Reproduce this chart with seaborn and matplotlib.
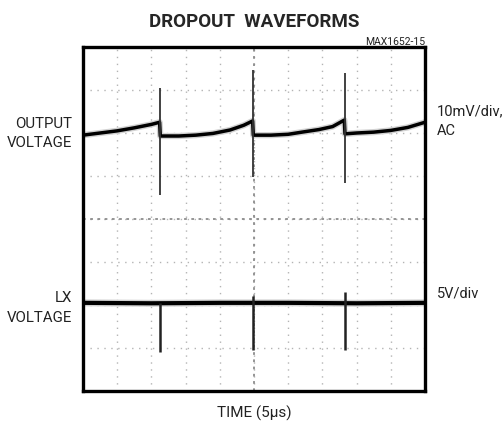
import matplotlib
matplotlib.use("Agg")
import matplotlib.pyplot as plt
import matplotlib.transforms as mtransforms
import seaborn as sns
import pandas as pd

# ==========================
# Data (x in time divisions, y in vertical divisions)
# ==========================

out_t = [0.0, 0.5, 1.0, 1.5, 2.0, 2.24, 2.26, 2.8, 3.3, 3.8, 4.3, 4.7, 4.96,
         4.98, 5.5, 6.0, 6.4, 6.9, 7.3, 7.64, 7.66, 8.0, 8.5, 9.0, 9.5, 10.0]
out_v = [5.95, 6.0, 6.05, 6.12, 6.2, 6.25, 5.93, 5.93, 5.95, 5.99, 6.07, 6.18, 6.28,
         5.95, 5.95, 5.97, 6.02, 6.08, 6.15, 6.3, 5.98, 6.0, 6.02, 6.06, 6.13, 6.25]

spike_t = [2.25, 4.97, 7.65]
out_spike_top = [7.05, 7.47, 7.40]
out_spike_bot = [4.56, 4.98, 4.84]

lx_t = [0.0, 2.0, 4.0, 6.0, 8.0, 10.0]
lx_v = [2.05, 2.04, 2.05, 2.05, 2.04, 2.05]
lx_spike_top = [2.05, 2.2, 2.3]
lx_spike_bot = [0.91, 0.95, 0.95]

left_labels = ["OUTPUT\nVOLTAGE", "LX\nVOLTAGE"]
left_label_y = [5.99, 1.93]
right_labels = ["10mV/div,\nAC", "5V/div"]
right_label_y = [6.28, 2.27]

out_df = pd.DataFrame({"t": out_t, "v": out_v})
lx_df = pd.DataFrame({"t": lx_t, "v": lx_v})

sns.set_style("white")
plt.rcParams["font.family"] = ["Roboto", "DejaVu Sans"]

fig = plt.figure(figsize=(5.04, 4.26), dpi=100)
ax = fig.add_axes([83 / 504, 35 / 426, 342 / 504, 344 / 426])

# scope graticule
ax.set_xlim(0, 10)
ax.set_ylim(0, 8)
ax.set_xticks(range(0, 11))
ax.set_yticks(range(0, 9))
ax.set_xticklabels([])
ax.set_yticklabels([])
ax.tick_params(length=0)
ax.grid(True, color="#b4b4b4", linestyle=(0, (1, 4)), linewidth=1.0)
ax.axhline(4, color="#8c8c8c", linestyle=(0, (1.5, 2.5)), linewidth=1.3)
ax.axvline(5, color="#8c8c8c", linestyle=(0, (1.5, 2.5)), linewidth=1.3)

# traces
sns.lineplot(data=out_df, x="t", y="v", ax=ax, color="#d2d2d2", linewidth=4.5, sort=False)
sns.lineplot(data=out_df, x="t", y="v", ax=ax, color="black", linewidth=2.5, sort=False)
ax.vlines(spike_t, out_spike_bot, out_spike_top, color="#333333", linewidth=1.3)

sns.lineplot(data=lx_df, x="t", y="v", ax=ax, color="#d2d2d2", linewidth=5, sort=False)
sns.lineplot(data=lx_df, x="t", y="v", ax=ax, color="black", linewidth=3.0, sort=False)
ax.vlines(spike_t, lx_spike_bot, lx_spike_top, color="#222222", linewidth=1.8)

ax.set_xlabel("")
ax.set_ylabel("")
for s in ax.spines.values():
    s.set_visible(True)
    s.set_color("black")
    s.set_linewidth(2.4)

trans = mtransforms.blended_transform_factory(ax.transAxes, ax.transData)
for lab, y in zip(left_labels, left_label_y):
    ax.text(-0.032, y, lab, transform=trans, ha="right", va="center",
            fontsize=10.8, linespacing=1.5, color="#222222")
for lab, y in zip(right_labels, right_label_y):
    ax.text(1.035, y, lab, transform=trans, ha="left", va="center",
            fontsize=10.5, linespacing=1.5, color="#222222")

fig.text(254 / 504, 1 - 27 / 426, "DROPOUT  WAVEFORMS", ha="center", va="baseline",
         fontsize=13.5, fontweight="bold")
fig.text(425 / 504, 1 - 45 / 426, "MAX1652-15", ha="right", va="baseline",
         fontsize=7.5, color="#222222")
fig.text(254 / 504, 8 / 426, "TIME (5\u00b5s)", ha="center", va="baseline",
         fontsize=11, color="#222222")

fig.savefig("out.png", dpi=100)
